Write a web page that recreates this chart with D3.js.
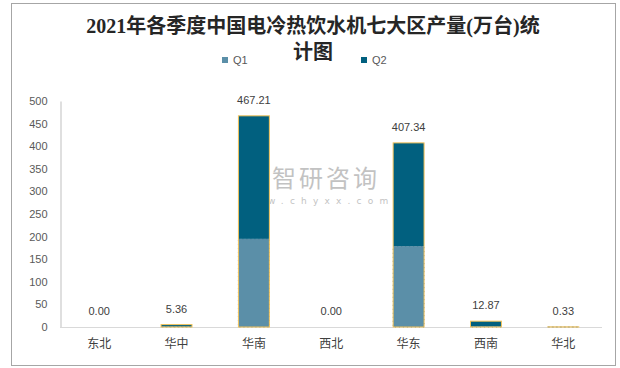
<!DOCTYPE html>
<html><head><meta charset="utf-8">
<script src="https://cdn.jsdelivr.net/npm/d3@7"></script>
<style>html,body{margin:0;padding:0;background:#fff;}svg{display:block;}</style>
</head><body>
<svg id="c" width="620" height="368"></svg>
<script>
const categories = ["东北","华中","华南","西北","华东","西南","华北"];
const q1Values = [0, 0.8, 195, 0, 179, 1.5, 0.1];
const q2Values = [0, 4.56, 272.21, 0, 228.34, 11.37, 0.23];
const totalLabels = ["0.00","5.36","467.21","0.00","407.34","12.87","0.33"];
const yTicks = [0,50,100,150,200,250,300,350,400,450,500];
const seriesNames = ["Q1","Q2"];
const colors = ["#5b8fa8","#01607f"];

const svg = d3.select("#c");
svg.append("rect").attr("x",11.5).attr("y",3.5).attr("width",604).attr("height",362)
  .attr("fill","#fff").attr("stroke","#a6a6a6").attr("stroke-width",1);

const x = d3.scaleBand().domain(categories).range([60.5,602]).padding(0);
const y = d3.scaleLinear().domain([0,500]).range([327,101]);
const bw = x.bandwidth()*0.4;

// title
const title = svg.append("text").attr("text-anchor","middle")
  .style("font-family","'Liberation Serif','Noto Sans CJK SC',serif")
  .style("font-weight","bold").style("font-size","20px").attr("fill","#262626");
title.append("tspan").attr("x",313).attr("y",33).text("2021年各季度中国电冷热饮水机七大区产量(万台)统");
title.append("tspan").attr("x",313).attr("y",59).text("计图");

// legend
const legX = [222, 361];
seriesNames.forEach((s,i)=>{
  svg.append("rect").attr("x",legX[i]).attr("y",57).attr("width",6).attr("height",6).attr("fill",colors[i]);
  svg.append("text").attr("x",legX[i]+11).attr("y",64).text(s)
    .style("font-family","'Liberation Sans',Arial,sans-serif").style("font-size","11px").attr("fill","#595959");
});

// watermark
const wm = svg.append("g").attr("opacity",0.6);
wm.append("rect").attr("x",241).attr("y",164).attr("width",22).attr("height",26).attr("fill","#2f6f95").attr("opacity",0.45);
wm.append("text").attr("x",272).attr("y",187).text("智研咨询")
  .style("font-family","'Noto Sans CJK SC',sans-serif").style("font-size","24px").style("letter-spacing","3px").attr("fill","#9a9a9a");
wm.append("text").attr("x",241).attr("y",204).text("www.chyxx.com")
  .style("font-family","'DejaVu Sans',sans-serif").style("font-size","9px").style("letter-spacing","6.2px").attr("fill","#9a9a9a");

// y axis
const yAxis = d3.axisLeft(y).tickValues(yTicks).tickSize(0).tickPadding(13);
const ga = svg.append("g").attr("transform","translate(60.5,0)").call(yAxis);
ga.select(".domain").attr("stroke","#bfbfbf");
ga.selectAll("text").style("font-family","'Liberation Sans',Arial,sans-serif").style("font-size","11px").attr("fill","#595959");

// baseline
svg.append("line").attr("x1",60).attr("x2",602).attr("y1",327.5).attr("y2",327.5).attr("stroke","#d9d9d9");

// x axis labels
const xAxis = d3.axisBottom(x).tickSize(0).tickPadding(12);
const gx = svg.append("g").attr("transform","translate(0,327)").call(xAxis);
gx.select(".domain").remove();
gx.selectAll("text").style("font-family","'Noto Sans CJK SC',sans-serif").style("font-size","12px").attr("fill","#404040");

// stacked bars
const data = categories.map((c,i)=>({cat:c, Q1:q1Values[i], Q2:q2Values[i], label:totalLabels[i]}));
const stack = d3.stack().keys(seriesNames)(data);
stack.forEach((layer,li)=>{
  svg.append("g").selectAll("rect").data(layer).join("rect")
    .attr("x",d=>x(d.data.cat)+x.bandwidth()/2-bw/2)
    .attr("width",bw)
    .attr("y",d=>y(d[1]))
    .attr("height",d=>Math.max(0,y(d[0])-y(d[1])))
    .attr("fill",colors[li])
    .attr("stroke",li===0?"#46758d":"none")
    .attr("stroke-dasharray","1,3")
    .attr("stroke-width",0.8);
});
// gold outline
svg.append("g").selectAll("rect").data(data.filter(d=>d.Q1+d.Q2>0)).join("rect")
  .attr("x",d=>x(d.cat)+x.bandwidth()/2-bw/2)
  .attr("width",bw)
  .attr("y",d=>y(d.Q1+d.Q2))
  .attr("height",d=>y(0)-y(d.Q1+d.Q2))
  .attr("fill","none").attr("stroke","#f4c35a").attr("stroke-width",1);

// value labels
svg.append("g").selectAll("text").data(data).join("text")
  .attr("x",d=>x(d.cat)+x.bandwidth()/2)
  .attr("y",d=>y(d.Q1+d.Q2)-12)
  .attr("text-anchor","middle")
  .text(d=>d.label)
  .style("font-family","'Liberation Sans',Arial,sans-serif").style("font-size","11px").attr("fill","#404040");
</script>
</body></html>
